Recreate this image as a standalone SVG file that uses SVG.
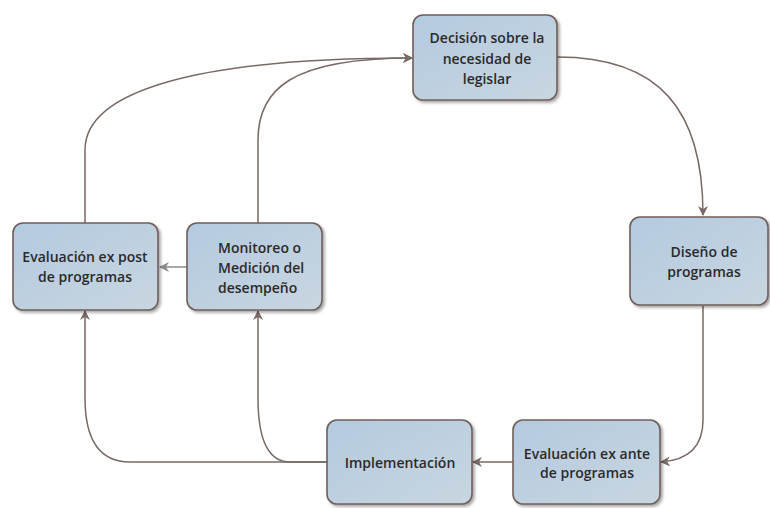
<svg xmlns="http://www.w3.org/2000/svg" width="770" height="508" viewBox="0 0 770 508">
<defs>
<linearGradient id="g" x1="0" y1="0" x2="1" y2="1">
<stop offset="0" stop-color="#b4cae0"/>
<stop offset="1" stop-color="#c8d6e0"/>
</linearGradient>
<filter id="sh" x="-10%" y="-10%" width="125%" height="125%">
<feGaussianBlur in="SourceAlpha" stdDeviation="1.5"/>
<feOffset dx="2" dy="2"/>
<feComponentTransfer><feFuncA type="linear" slope="0.35"/></feComponentTransfer>
<feMerge><feMergeNode/><feMergeNode in="SourceGraphic"/></feMerge>
</filter>
<marker id="a" viewBox="0 0 10 10" refX="9" refY="5" markerWidth="10" markerHeight="10" markerUnits="userSpaceOnUse" orient="auto">
<path d="M0,0 L10,5 L0,10 L3,5 Z" fill="#7a6a66"/>
</marker>
<marker id="ag" viewBox="0 0 10 10" refX="9" refY="5" markerWidth="10" markerHeight="10" markerUnits="userSpaceOnUse" orient="auto">
<path d="M0,0 L10,5 L0,10 L3,5 Z" fill="#8c8c8c"/>
</marker>
</defs>
<style>
.box{fill:url(#g);stroke:#6f5f5a;stroke-width:1.6;filter:url(#sh)}
.t{font-family:"Open Sans","Liberation Sans",sans-serif;font-weight:600;font-size:14px;fill:#2a2a2a;text-anchor:middle}
.c{fill:none;stroke:#7a6a66;stroke-width:1.5}
</style>
<g id="connectors">
<path class="c" d="M557,57 C660,57 703,110 703,215" marker-end="url(#a)"/>
<path class="c" d="M703,306 L703,420 C703,445 690,460 661,462" marker-end="url(#a)"/>
<path class="c" d="M513,462 L473,462" marker-end="url(#a)"/>
<path class="c" d="M327,462 L130,462 C100,462 85,440 85,398 L85,311" marker-end="url(#a)"/>
<path class="c" d="M327,462 L290,462 C268,462 258,440 258,398 L258,311" marker-end="url(#a)"/>
<path class="c" d="M85,223 L85,150 C85,90 200,58 412,58" marker-end="url(#a)"/>
<path class="c" d="M258,223 L258,140 C258,90 290,58 412,58" marker-end="url(#a)"/>
<path d="M187,267 L160,267" fill="none" stroke="#8c8c8c" stroke-width="1.5" marker-end="url(#ag)"/>
</g>
<g id="n1"><rect class="box" x="413" y="15" width="144" height="85" rx="10"/>
<text class="t" x="487" y="43">Decisión sobre la</text><text class="t" x="487" y="64">necesidad de</text><text class="t" x="487" y="84">legislar</text></g>
<g id="n2"><rect class="box" x="630" y="217" width="138" height="88" rx="10"/>
<text class="t" x="704" y="257">Diseño de</text><text class="t" x="704" y="277">programas</text></g>
<g id="n3"><rect class="box" x="513" y="420" width="147" height="84" rx="10"/>
<text class="t" x="587" y="459">Evaluación ex ante</text><text class="t" x="587" y="478">de programas</text></g>
<g id="n4"><rect class="box" x="327" y="420" width="145" height="84" rx="10"/>
<text class="t" x="400" y="468">Implementación</text></g>
<g id="n5"><rect class="box" x="187" y="223" width="135" height="87" rx="10"/>
<text class="t" x="218" y="253" style="text-anchor:start">Monitoreo o</text><text class="t" x="218" y="273" style="text-anchor:start">Medición del</text><text class="t" x="218" y="293" style="text-anchor:start">desempeño</text></g>
<g id="n6"><rect class="box" x="13" y="223" width="145" height="87" rx="10"/>
<text class="t" x="85" y="262">Evaluación ex post</text><text class="t" x="85" y="282">de programas</text></g>
</svg>
